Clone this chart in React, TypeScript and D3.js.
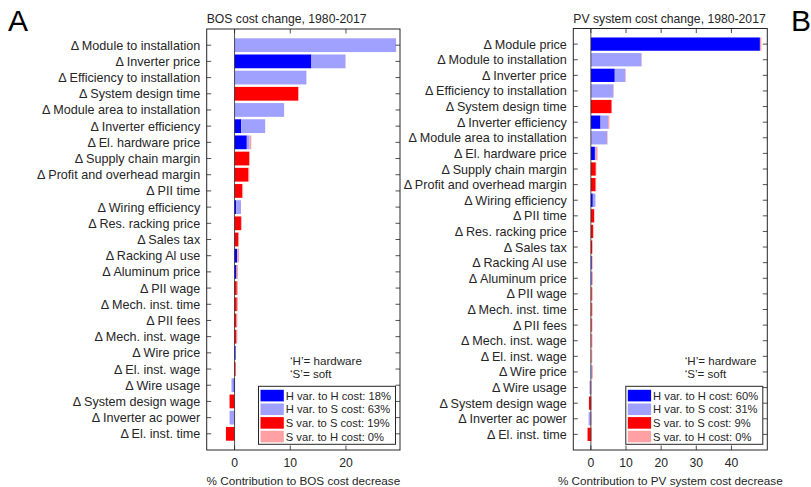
import React from 'react'
import * as d3 from 'd3'

// BOS panel (A)
const bosCategories = [
  'Module to installation', 'Inverter price', 'Efficiency to installation', 'System design time',
  'Module area to installation', 'Inverter efficiency', 'El. hardware price', 'Supply chain margin',
  'Profit and overhead margin', 'PII time', 'Wiring efficiency', 'Res. racking price', 'Sales tax',
  'Racking Al use', 'Aluminum price', 'PII wage', 'Mech. inst. time', 'PII fees', 'Mech. inst. wage',
  'Wire price', 'El. inst. wage', 'Wire usage', 'System design wage', 'Inverter ac power', 'El. inst. time',
]
const bosHH = [0, 13.8, 0, 0, 0, 1.2, 2.2, 0, 0, 0, 0.3, 0, 0, 0.45, 0.35, 0, 0, 0, 0, 0.2, 0, -0.2, 0, 0, 0]
const bosHS = [29.0, 6.1, 12.9, 0, 8.9, 4.3, 0.5, 0, 0, 0, 0.85, 0, 0, 0.1, 0, 0, 0, 0, 0, 0.05, 0, -0.35, 0, -0.9, 0]
const bosSS = [0, 0, 0, 11.4, 0, 0, 0, 2.6, 2.5, 1.4, 0, 1.15, 0.7, 0, 0, 0.4, 0.4, 0.35, 0.35, 0, 0.2, 0, -0.9, 0, -1.55]
const bosSH = [0, 0.05, 0, 0.15, 0, 0, 0.3, 0.15, 0.15, 0.15, 0, 0.15, 0.1, 0.25, 0.25, 0.2, 0.2, 0.15, 0.15, 0, 0.05, 0, 0.05, 0.05, 0.05]
const bosLegend = ['H var. to H cost: 18%', 'H var. to S cost: 63%', 'S var. to S cost: 19%', 'S var. to H cost: 0%']
const bosTicks = [0, 10, 20]

// PV system panel (B)
const pvCategories = [
  'Module price', 'Module to installation', 'Inverter price', 'Efficiency to installation',
  'System design time', 'Inverter efficiency', 'Module area to installation', 'El. hardware price',
  'Supply chain margin', 'Profit and overhead margin', 'Wiring efficiency', 'PII time',
  'Res. racking price', 'Sales tax', 'Racking Al use', 'Aluminum price', 'PII wage', 'Mech. inst. time',
  'PII fees', 'Mech. inst. wage', 'El. inst. wage', 'Wire price', 'Wire usage', 'System design wage',
  'Inverter ac power', 'El. inst. time',
]
const pvHH = [48.1, 0, 6.8, 0, 0, 2.75, 0, 1.15, 0, 0, 0.55, 0, 0, 0, 0.25, 0.2, 0, 0, 0, 0, 0, 0.1, -0.1, 0, 0, 0]
const pvHS = [0, 14.4, 3.0, 6.4, 0, 2.15, 4.6, 0.25, 0, 0, 0.75, 0, 0, 0, 0, 0.1, 0, 0, 0, 0, 0, 0.2, -0.3, 0, -0.65, 0]
const pvSS = [0, 0, 0, 0, 5.9, 0, 0, 0, 1.4, 1.35, 0, 0.9, 0.6, 0.35, 0, 0, 0.25, 0.25, 0.25, 0.2, 0.15, 0, 0, -0.55, 0, -0.95]
const pvSH = [0.4, 0.1, 0.15, 0.1, 0.1, 0.35, 0.15, 0.5, 0.15, 0.15, 0, 0.15, 0.2, 0.2, 0.25, 0.25, 0.25, 0.25, 0.2, 0.25, 0.25, 0.25, 0.2, 0.25, 0.2, 0.3]
const pvLegend = ['H var. to H cost: 60%', 'H var. to S cost: 31%', 'S var. to S cost: 9%', 'S var. to H cost: 0%']
const pvTicks = [0, 10, 20, 30, 40]

const colors = ['#0000ff', '#a0a0ff', '#ff0000', '#ffa0a4']
const ink = '#262626'
const font = '"Liberation Sans", Arial, Helvetica, sans-serif'

type PanelProps = {
  cats: string[]
  series: number[][]
  legend: string[]
  ticks: number[]
  xDomain: [number, number]
  left: number
  right: number
  top: number
  bottom: number
  title: string
  xLabel: string
  noteX: number
}

function Panel(p: PanelProps) {
  const n = p.cats.length
  const x = d3.scaleLinear().domain(p.xDomain).range([p.left, p.right])
  const y = d3.scaleLinear().domain([0, n + 1]).range([p.top, p.bottom])
  const bh = (y(1) - y(0)) * 0.85

  const rows = p.cats.map((c, i) => ({ cat: c, hh: p.series[0][i], hs: p.series[1][i], ss: p.series[2][i], sh: p.series[3][i] }))
  const keys = ['hh', 'hs', 'ss', 'sh']
  const stacked = d3.stack<any>().keys(keys).offset(d3.stackOffsetDiverging)(rows)

  const tl = 4.5
  const legRight = p.right - 4.5
  const legBottom = p.bottom - 5.7
  const legH = 58
  const legLeft = legRight - 137

  return (
    <g fontFamily={font} fill={ink}>
      <text x={p.left} y={23} fontSize={12.2}>{p.title}</text>
      {stacked.map((layer, k) => (
        <g key={k} fill={colors[k]}>
          {layer.map((d, i) => {
            const x0 = x(Math.min(d[0], d[1]))
            const x1 = x(Math.max(d[0], d[1]))
            if (x1 - x0 <= 0) return null
            return <rect key={i} x={x0} width={x1 - x0} y={y(i + 1) - bh / 2} height={bh} />
          })}
        </g>
      ))}
      <line x1={x(0)} x2={x(0)} y1={p.top} y2={p.bottom} stroke={ink} strokeWidth={0.8} />
      <rect x={p.left} y={p.top} width={p.right - p.left} height={p.bottom - p.top} fill="none" stroke={ink} strokeWidth={1} />
      {p.cats.map((c, i) => (
        <g key={c}>
          <line x1={p.left} x2={p.left + tl} y1={y(i + 1)} y2={y(i + 1)} stroke={ink} strokeWidth={0.8} />
          <line x1={p.right} x2={p.right - tl} y1={y(i + 1)} y2={y(i + 1)} stroke={ink} strokeWidth={0.8} />
          <text x={p.left - 6.5} y={y(i + 1)} dy="0.36em" textAnchor="end" fontSize={12.6}>{'\u0394 ' + c}</text>
        </g>
      ))}
      {p.ticks.map(t => (
        <g key={t}>
          <line x1={x(t)} x2={x(t)} y1={p.top} y2={p.top + tl} stroke={ink} strokeWidth={0.8} />
          <line x1={x(t)} x2={x(t)} y1={p.bottom} y2={p.bottom - tl} stroke={ink} strokeWidth={0.8} />
          <text x={x(t)} y={466.5} textAnchor="middle" fontSize={12.2}>{t}</text>
        </g>
      ))}
      <text x={(p.left + p.right) / 2} y={484.5} textAnchor="middle" fontSize={11.7}>{p.xLabel}</text>
      <text x={p.noteX} y={361} dy="0.36em" fontSize={11.6}>{'\u2018H\u2019= hardware'}</text>
      <text x={p.noteX} y={374} dy="0.36em" fontSize={11.6}>{'\u2018S\u2019= soft'}</text>
      <rect x={legLeft} y={legBottom - legH} width={legRight - legLeft} height={legH} fill="white" stroke={ink} strokeWidth={1} />
      {p.legend.map((l, k) => {
        const cy = legBottom - legH + 9.3 + k * 13.65
        return (
          <g key={l}>
            <rect x={legLeft + 2} y={cy - 5.8} width={23.3} height={11.6} fill={colors[k]} />
            <text x={legLeft + 27.3} y={cy} dy="0.36em" fontSize={11.2}>{l}</text>
          </g>
        )
      })}
    </g>
  )
}

export default function App() {
  return (
    <svg width={811} height={487} style={{ position: 'absolute', left: 0, top: 0, background: 'white' }}>
      <rect width={811} height={487} fill="white" />
      <text x={8} y={30.7} fontSize={30} fontFamily={font} fill="#000">A</text>
      <text x={791} y={30.7} fontSize={30} fontFamily={font} fill="#000">B</text>
      <Panel
        cats={bosCategories}
        series={[bosHH, bosHS, bosSS, bosSH]}
        legend={bosLegend}
        ticks={bosTicks}
        xDomain={[-5, 29.7]}
        left={206.7}
        right={400}
        top={29}
        bottom={450}
        title="BOS cost change, 1980-2017"
        xLabel="% Contribution to BOS cost decrease"
        noteX={290}
      />
      <Panel
        cats={pvCategories}
        series={[pvHH, pvHS, pvSS, pvSH]}
        legend={pvLegend}
        ticks={pvTicks}
        xDomain={[-5, 50.2]}
        left={573.3}
        right={767.3}
        top={28.5}
        bottom={450}
        title="PV system cost change, 1980-2017"
        xLabel="% Contribution to PV system cost decrease"
        noteX={684.7}
      />
    </svg>
  )
}
